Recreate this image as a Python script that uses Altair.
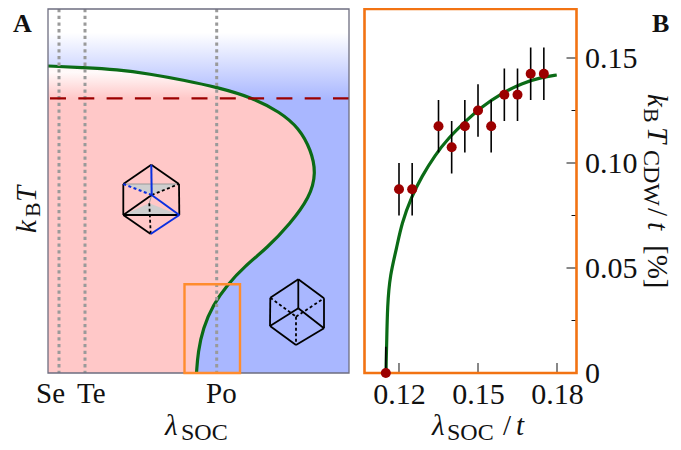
import altair as alt
import pandas as pd

SERIF = "Liberation Serif"
PINK = "#ffc8c8"
BLUE = "#a9b7ff"
GREEN = "#0b6b16"
RED = "#9c0000"
ORANGE_A = "#ff8c2e"
ORANGE_B = "#f27313"

# ---- panel A (schematic, arbitrary units) ----
A_W, A_H = 301, 364
curve_a_x = [0, 35, 69, 102, 135, 170, 204, 232, 251, 263, 268.2, 262, 242, 219, 197, 179, 165, 155, 150, 148.5]
curve_a_y = [307, 305.5, 303.5, 299, 293, 285.5, 275.5, 261, 245, 223, 200, 176, 149, 125, 107, 88, 68, 45, 21, 0]
elements_x = [11, 37, 168.7]
t_line = [274.7]
box_x = [136.5, 192]
box_y = [0, 88.7]

octa = {"T": (103.3, 208.3), "UL": (75.3, 189), "UR": (131, 189), "LL": (75.3, 158),
        "LR": (131.3, 158), "Bo": (102.7, 139), "C": (103.7, 178), "D": (101.3, 169.7)}
octa_black = [("T", "UL"), ("T", "UR"), ("UL", "LL"), ("UR", "LR"), ("LL", "Bo"), ("LL", "C"), ("LL", "LR")]
octa_black_dash = [("C", "UR"), ("D", "Bo")]
octa_blue = [("T", "C"), ("C", "LR"), ("LR", "Bo")]
octa_blue_dash = [("UL", "C")]
octa_grey = [("UL", "UR"), ("D", "C")]

cube = {"T": (250.3, 93.7), "UL": (222.3, 75.3), "UR": (276, 74.7), "LL": (222, 47),
        "LR": (276, 44.7), "Bo": (248, 28), "M": (250.3, 64.7), "D": (248, 56.3)}
cube_solid = [("T", "UL"), ("T", "UR"), ("T", "M"), ("UL", "LL"), ("UR", "LR"),
              ("LL", "Bo"), ("LR", "Bo"), ("LL", "M"), ("M", "LR")]
cube_dash = [("UL", "D"), ("D", "UR"), ("D", "Bo")]

# ---- panel B ----
B_W, B_H = 212, 364
B_XDOM = [0.1069, 0.1874]
B_YDOM = [0, 364 / 2100]
curve_b_x = [0.1151, 0.1151, 0.1153, 0.1156, 0.1166, 0.1191, 0.1210, 0.1248, 0.1286, 0.1337, 0.1387, 0.1451, 0.1514, 0.1590, 0.1666, 0.1742, 0.1799]
curve_b_y = [0, 0.0050, 0.0119, 0.0324, 0.0467, 0.0594, 0.0713, 0.0840, 0.0935, 0.1038, 0.1118, 0.1197, 0.1268, 0.1332, 0.1380, 0.1408, 0.1419]
pts_x = [0.115, 0.12, 0.125, 0.135, 0.14, 0.145, 0.15, 0.155, 0.16, 0.165, 0.17, 0.175]
pts_y = [0, 0.0875, 0.0875, 0.1175, 0.1075, 0.1175, 0.125, 0.1175, 0.1325, 0.1325, 0.1425, 0.1425]
pts_err = [0.0125] * 12
x_ticks = [0.12, 0.15, 0.18]
y_ticks = [0, 0.05, 0.10, 0.15]
y_minor = [0.025, 0.075, 0.125]

AX = alt.Scale(domain=[0, A_W], nice=False, zero=False)
AY = alt.Scale(domain=[0, A_H], nice=False, zero=False)
BX = alt.Scale(domain=B_XDOM, nice=False, zero=False)
BY = alt.Scale(domain=B_YDOM, nice=False, zero=False)

B_X_AXIS = alt.Axis(
    values=x_ticks, format=".2f", ticks=False, domain=False, grid=False, title=None,
    labelFont=SERIF, labelFontSize=30, labelColor="#111111", labelPadding=30,
    labelBaseline="alphabetic", labelOverlap=False, labelFlush=False)
B_Y_AXIS = alt.Axis(
    orient="right", values=y_ticks, labelExpr="datum.value === 0 ? '0' : format(datum.value, '.2f')",
    ticks=False, domain=False, grid=False, title=None, labelFont=SERIF, labelFontSize=30,
    labelColor="#111111", labelPadding=8, labelBaseline="middle", labelOverlap=False, labelFlush=False)


def ax(f):
    return alt.X(f, type="quantitative", scale=AX, axis=None)


def ay(f):
    return alt.Y(f, type="quantitative", scale=AY, axis=None)


def bx(f):
    return alt.X(f, type="quantitative", scale=BX, axis=B_X_AXIS)


def by(f):
    return alt.Y(f, type="quantitative", scale=BY, axis=B_Y_AXIS)


def label(s, px, py, ox, size=29, style="normal", weight="normal", angle=0, align="left"):
    return alt.Chart(pd.DataFrame({"t": [s]})).mark_text(
        font=SERIF, fontSize=size, fontStyle=style, fontWeight=weight, angle=angle,
        align=align, baseline="alphabetic", color="#111111",
    ).encode(text="t:N", x=alt.value(px - ox), y=alt.value(py - 9))


def segs(verts, edges):
    return pd.DataFrame([
        {"x": verts[a][0], "y": verts[a][1], "x2": verts[b][0], "y2": verts[b][1]} for a, b in edges
    ])


def seg_layer(verts, edges, color, width=1.8, dash=None):
    kw = {"strokeDash": dash} if dash else {}
    return alt.Chart(segs(verts, edges)).mark_rule(color=color, strokeWidth=width, **kw).encode(
        x=ax("x"), y=ay("y"), x2="x2:Q", y2="y2:Q")


bg = alt.Chart(pd.DataFrame({"x": [0], "x2": [A_W], "y": [0], "y2": [A_H]})).mark_rect(
    color=alt.LinearGradient(gradient="linear", x1=0, x2=0, y1=0, y2=1, stops=[
        alt.GradientStop(color="#ffffff", offset=0),
        alt.GradientStop(color="#ffffff", offset=0.065),
        alt.GradientStop(color=BLUE, offset=0.248),
        alt.GradientStop(color=BLUE, offset=1),
    ])
).encode(x=ax("x"), x2="x2:Q", y=ay("y"), y2="y2:Q")

curve_a = pd.DataFrame({"x": curve_a_x, "y": curve_a_y, "x0": [0] * len(curve_a_x), "i": range(len(curve_a_x))})
pink = alt.Chart(curve_a).mark_area(
    orient="horizontal", interpolate="basis",
    color=alt.LinearGradient(gradient="linear", x1=0, x2=0, y1=0, y2=1, stops=[
        alt.GradientStop(color="#fff4f4", offset=0),
        alt.GradientStop(color="#fffafa", offset=0.02),
        alt.GradientStop(color=PINK, offset=0.105),
        alt.GradientStop(color=PINK, offset=1),
    ])
).encode(x=ax("x"), x2="x0:Q", y=ay("y"))

tri = pd.DataFrame({
    "x": [octa["UL"][0], octa["C"][0], octa["UR"][0], octa["LL"][0], octa["D"][0], octa["LR"][0]],
    "y": [octa["UL"][1], octa["C"][1], octa["UR"][1], octa["LL"][1], octa["D"][1], octa["LR"][1]],
    "y2": [octa["UL"][1]] * 3 + [octa["LL"][1]] * 3,
    "k": ["top"] * 3 + ["bot"] * 3,
})
tris = alt.Chart(tri).mark_area(color="#cfcfcf").encode(x=ax("x"), y=ay("y"), y2="y2:Q", detail="k:N")

green_a = alt.Chart(curve_a).mark_line(color=GREEN, strokeWidth=3.2, interpolate="basis").encode(
    x=ax("x"), y=ay("y"), order="i:Q")
dotted = alt.Chart(pd.DataFrame({"x": elements_x})).mark_rule(
    color="#9a9a9a", strokeWidth=3, strokeDash=[3.3, 3.4]).encode(x=ax("x"))
dashed = alt.Chart(pd.DataFrame({"y": t_line})).mark_rule(
    color=RED, strokeWidth=2.2, strokeDash=[16, 12.3]).encode(y=ay("y"))
box = alt.Chart(pd.DataFrame({"x": [box_x[0]], "x2": [box_x[1]], "y": [box_y[0]], "y2": [box_y[1]]})).mark_rect(
    filled=False, stroke=ORANGE_A, strokeWidth=2.4).encode(x=ax("x"), x2="x2:Q", y=ay("y"), y2="y2:Q")
frame_a = alt.Chart(pd.DataFrame({"x": [0], "x2": [A_W], "y": [0], "y2": [A_H]})).mark_rect(
    filled=False, stroke="#6e6e80", strokeWidth=1.3).encode(x=ax("x"), x2="x2:Q", y=ay("y"), y2="y2:Q")

OA = 48
panel_a = alt.layer(
    bg, pink, tris,
    seg_layer(octa, octa_grey, "#9a9a9a", 1),
    seg_layer(octa, octa_black, "#000000"),
    seg_layer(octa, octa_black_dash, "#000000", dash=[3, 2.5]),
    seg_layer(octa, octa_blue, "#0a2fe0", 2),
    seg_layer(octa, octa_blue_dash, "#0a2fe0", 2, dash=[3, 2.5]),
    seg_layer(cube, cube_solid, "#000000"),
    seg_layer(cube, cube_dash, "#000000", dash=[3, 2.5]),
    green_a, dotted, dashed, frame_a, box,
    label("A", 13, 32, OA, size=26, weight="bold"),
    label("Se", 36, 403, OA),
    label("Te", 77, 403, OA),
    label("Po", 206, 403, OA),
    label("λ", 165, 435, OA, style="italic"),
    label("SOC", 181, 440, OA, size=24),
    label("k", 36, 233, OA, style="italic", angle=270),
    label("B", 40, 217, OA, size=22, angle=270),
    label("T", 36, 202, OA, style="italic", angle=270),
).properties(width=A_W, height=A_H)

# ---- panel B layers ----
curve_b = pd.DataFrame({"x": curve_b_x, "y": curve_b_y})
pts = pd.DataFrame({"x": pts_x, "y": pts_y, "lo": [a - b for a, b in zip(pts_y, pts_err)],
                    "hi": [a + b for a, b in zip(pts_y, pts_err)]})
green_b = alt.Chart(curve_b).mark_line(color=GREEN, strokeWidth=3.2, interpolate="basis").encode(
    x=bx("x"), y=by("y"))
errs = alt.Chart(pts).mark_rule(color="#000000", strokeWidth=1.6, clip=True).encode(
    x=bx("x"), y=by("lo"), y2="hi:Q")
dots = alt.Chart(pts).mark_circle(color=RED, size=100, opacity=1).encode(x=bx("x"), y=by("y"))
xt = alt.Chart(pd.DataFrame({"x": x_ticks})).mark_rule(color="#111111", strokeWidth=1).encode(
    x=bx("x"), y=alt.value(B_H), y2=alt.value(B_H - 10))
yt = alt.Chart(pd.DataFrame({"y": [v for v in y_ticks if v > 0]})).mark_rule(color="#111111", strokeWidth=1).encode(
    y=by("y"), x=alt.value(B_W), x2=alt.value(B_W - 10))
ym = alt.Chart(pd.DataFrame({"y": y_minor})).mark_rule(color="#111111", strokeWidth=1).encode(
    y=by("y"), x=alt.value(B_W), x2=alt.value(B_W - 5))
frame_b = alt.Chart(pd.DataFrame({"x": [B_XDOM[0]], "x2": [B_XDOM[1]], "y": [B_YDOM[0]], "y2": [B_YDOM[1]]})).mark_rect(
    filled=False, stroke=ORANGE_B, strokeWidth=2.6).encode(x=bx("x"), x2="x2:Q", y=by("y"), y2="y2:Q")

OB = 364.5
panel_b = alt.layer(
    green_b, xt, yt, ym, frame_b, errs, dots,
    label("B", 652, 32, OB, size=26, weight="bold"),
    label("λ", 432, 435, OB, style="italic"),
    label("SOC", 447, 440, OB, size=24),
    label("/", 503, 435, OB),
    label("t", 516, 435, OB, style="italic"),
    label("k", 648, 94, OB, style="italic", angle=90),
    label("B", 644, 108, OB, size=22, angle=90),
    label("T", 648, 127, OB, style="italic", angle=90),
    label("CDW", 644, 150, OB, size=24, angle=90),
    label("/", 648, 208, OB, angle=90),
    label("t", 648, 222, OB, style="italic", angle=90),
    label("[%]", 648, 245, OB, angle=90),
).properties(width=B_W, height=B_H)

chart = alt.hconcat(panel_a, panel_b, spacing=15.5, bounds="flush").properties(
    autosize=alt.AutoSizeParams(type="none"),
    padding={"left": 40, "top": 1, "right": 625, "bottom": 433},
    background="white",
).configure_view(stroke=None)

chart.save("out.html", embed_options={"renderer": "svg", "actions": False})
